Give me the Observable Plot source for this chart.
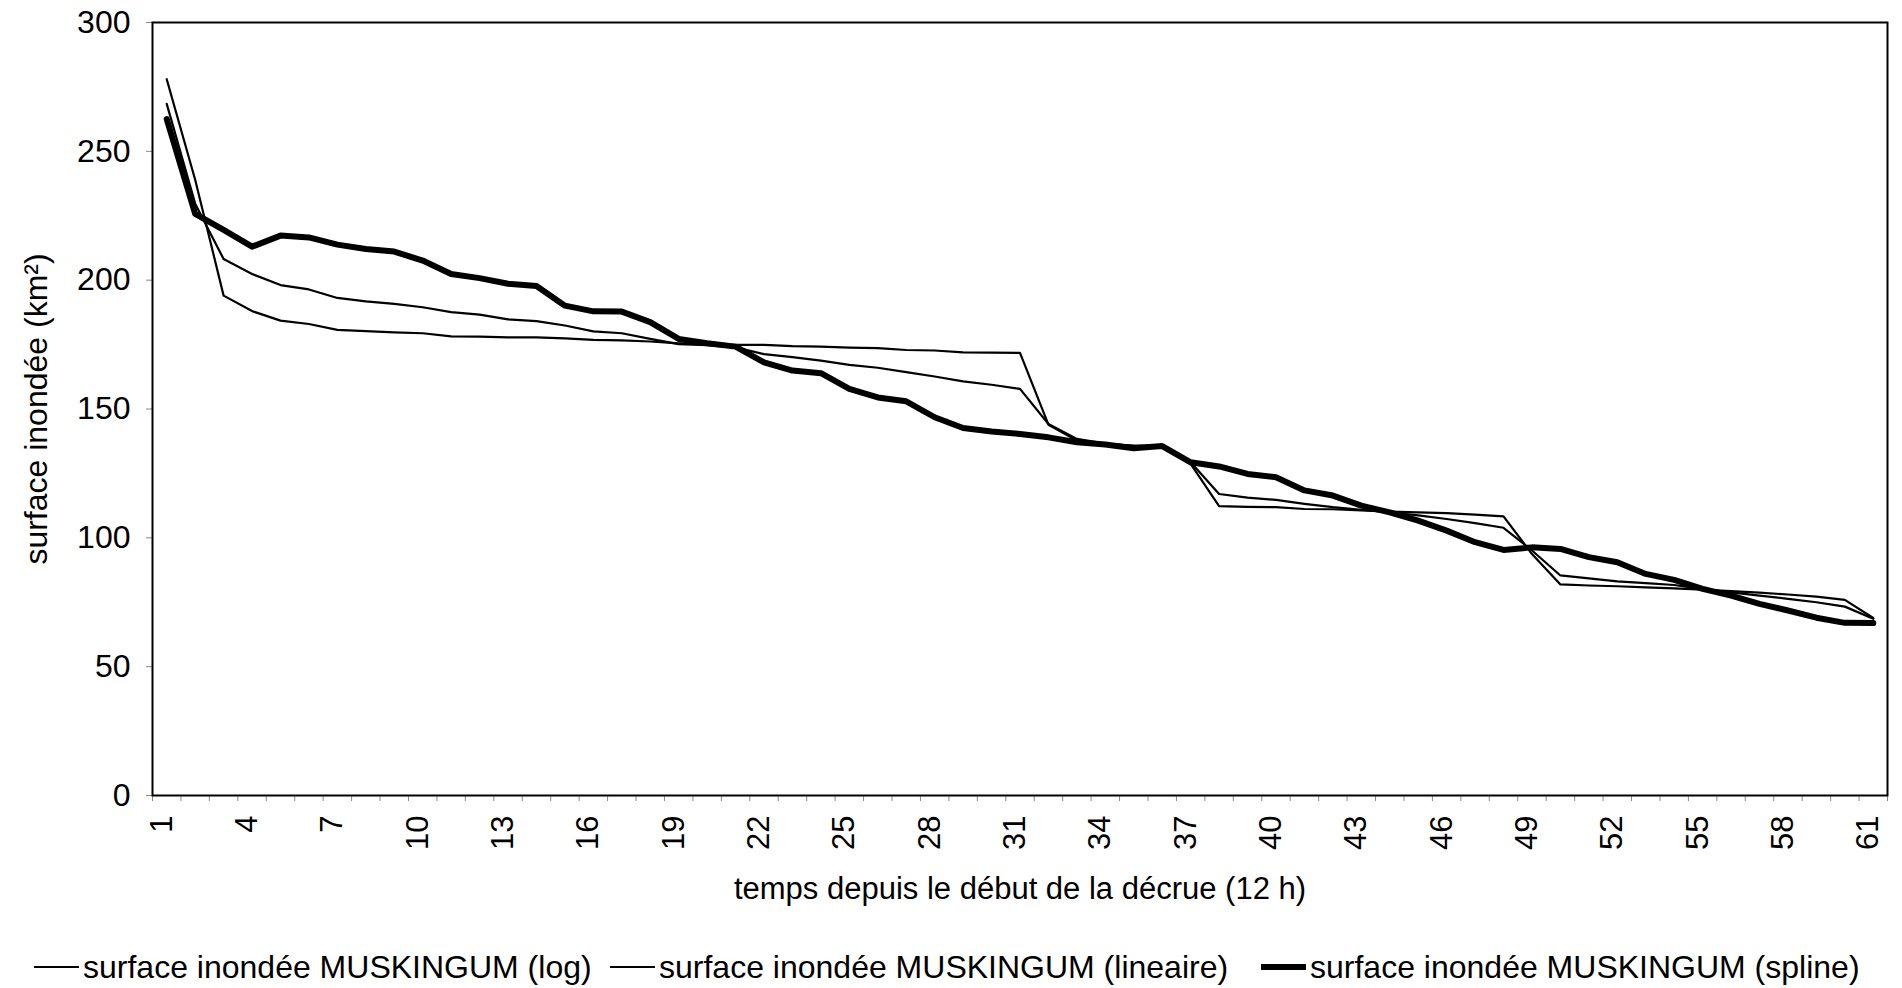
<!DOCTYPE html>
<html><head><meta charset="utf-8">
<script src="https://cdn.jsdelivr.net/npm/d3@7"></script>
<script src="https://cdn.jsdelivr.net/npm/@observablehq/plot@0.6"></script>
<style>
body{margin:0;background:#fff;font-family:"Liberation Sans",Arial,sans-serif;}
#wrap{position:relative;width:1902px;height:988px;overflow:hidden;}
#legend{position:absolute;top:945px;left:0;width:1902px;height:44px;font-size:32px;color:#000;}
.item{position:absolute;top:0;height:44px;display:flex;align-items:center;white-space:nowrap;}
.item svg{margin-right:4px;}
</style></head><body><div id="wrap"><div id="chart"></div><div id="legend"></div></div>
<script>
const temps = d3.range(1, 62);
const xTickLabels = d3.range(1, 62, 3);
const yTicks = [0, 50, 100, 150, 200, 250, 300];

const surfaceLog = [278, 239, 194, 188, 184.3, 183, 180.7, 180.2, 179.7, 179.4,
  178.2, 178.1, 177.8, 177.8, 177.4, 176.8, 176.6, 176.2, 175.5, 175.0,
  174.9, 174.9, 174.4, 174.2, 173.8, 173.6, 172.9, 172.7, 172.0, 171.9,
  171.8, 143.9, 137.8, 136.5, 135.8, 135.8, 128.7, 112.3, 112.0, 111.9,
  111.2, 111.1, 110.6, 110.2, 109.9, 109.6, 109.0, 108.3, 93.7, 81.9,
  81.5, 81.2, 80.8, 80.4, 79.9, 79.3, 78.7, 78.0, 77.2, 75.9, 68.9];

const surfaceLineaire = [268.4, 229.7, 208.2, 202.4, 198.1, 196.4, 193.1, 191.8, 190.8, 189.5,
  187.6, 186.6, 184.8, 184.1, 182.4, 180.1, 179.4, 177.2, 175.2, 174.8,
  173.9, 171.3, 170.1, 168.8, 167.1, 166.0, 164.3, 162.6, 160.7, 159.4,
  157.8, 144.2, 138.4, 136.6, 135.6, 135.2, 129.3, 117.0, 115.6, 114.7,
  113.2, 111.9, 110.9, 109.9, 108.7, 107.3, 105.7, 103.9, 95.1, 85.4,
  84.3, 83.1, 82.4, 81.7, 80.1, 78.8, 77.6, 76.3, 75.0, 73.3, 68.6];

const surfaceSpline = [262.5, 225.7, 219.5, 213.0, 217.3, 216.6, 213.8, 212.1, 211.1, 207.6,
  202.4, 200.8, 198.6, 197.7, 190.1, 187.9, 187.8, 183.7, 177.2, 175.5,
  174.2, 168.1, 164.9, 163.9, 157.8, 154.5, 153.0, 146.8, 142.6, 141.3,
  140.3, 139.0, 137.1, 136.2, 134.8, 135.6, 129.3, 127.7, 124.8, 123.5,
  118.4, 116.4, 112.5, 109.9, 106.7, 102.8, 98.3, 95.3, 96.3, 95.7,
  92.5, 90.5, 86.0, 83.7, 80.2, 77.6, 74.4, 71.8, 69.0, 67.0, 66.9];

const seriesNames = ["surface inondée MUSKINGUM (log)", "surface inondée MUSKINGUM (lineaire)", "surface inondée MUSKINGUM (spline)"];
const seriesValues = [surfaceLog, surfaceLineaire, surfaceSpline];
const seriesWidths = [2.2, 2.2, 6];

const rows = [];
seriesValues.forEach((vals, s) => vals.forEach((v, k) => rows.push({t: temps[k], v, serie: seriesNames[s]})));

const boundaries = d3.range(0.5, 62, 1);

const chart = Plot.plot({
  width: 1902, height: 925,
  marginLeft: 152, marginRight: 15, marginTop: 22, marginBottom: 130,
  style: {fontFamily: "'Liberation Sans', Arial, sans-serif", fontSize: "32px", background: "white", color: "black"},
  x: {type: "linear", domain: [0.5, 61.5]},
  y: {domain: [0, 300]},
  marks: [
    Plot.axisY({ticks: yTicks, tickSize: 6, tickPadding: 16, stroke: "#888", fill: "black", fontSize: 32,
      label: "surface inondée (km²)", labelAnchor: "center", labelArrow: "none", labelOffset: 128}),
    Plot.axisX({ticks: boundaries, tickSize: 6, tickFormat: () => "", stroke: "#888", label: null}),
    Plot.axisX({ticks: xTickLabels, tickSize: 0, tickRotate: -90, tickPadding: 20, dx: -5, fontSize: 31, fill: "black",
      label: "temps depuis le début de la décrue (12 h)", labelAnchor: "center", labelArrow: "none", labelOffset: 103}),
    Plot.frame({stroke: "black", strokeWidth: 2}),
    ...seriesNames.map((name, s) => Plot.line(rows.filter(d => d.serie === name), {x: "t", y: "v", stroke: "black", strokeWidth: seriesWidths[s], strokeLinejoin: "round"}))
  ]
});
document.getElementById("chart").appendChild(chart);

const legendLefts = [34, 610, 1261];
const legend = document.getElementById("legend");
seriesNames.forEach((name, s) => {
  const item = document.createElement("div");
  item.className = "item";
  item.style.left = legendLefts[s] + "px";
  item.innerHTML = `<svg width="45" height="12"><line x1="0" x2="45" y1="6" y2="6" stroke="black" stroke-width="${seriesWidths[s]}"/></svg><span>${name}</span>`;
  legend.appendChild(item);
});
</script>
</body></html>
